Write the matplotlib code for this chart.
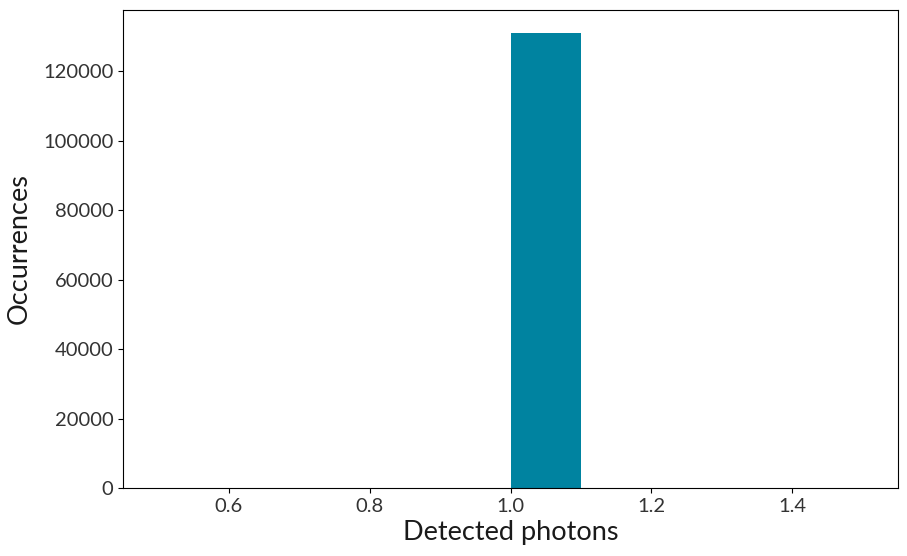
import matplotlib
matplotlib.use("Agg")
import matplotlib.pyplot as plt

# Data: detected photon values and their occurrence counts
photon_values = [1.0]
occurrences = [131072]
n_bins = 10

plt.rcParams['font.family'] = ['Lato', 'DejaVu Sans']

fig = plt.figure(figsize=(9.07, 5.56), dpi=100)
ax = fig.add_axes([123/907, 1 - 488/556, (898-123)/907, (488-10)/556])

ax.hist(photon_values, bins=n_bins, weights=occurrences, color='#0083a0')

ax.set_xlabel('Detected photons', fontsize=19.5, color='#1a1a1a', labelpad=4)
ax.set_ylabel('Occurrences', fontsize=19.5, color='#1a1a1a', labelpad=8)
ax.tick_params(labelsize=14.5, labelcolor='#333333')

fig.savefig('out.png', dpi=100)
